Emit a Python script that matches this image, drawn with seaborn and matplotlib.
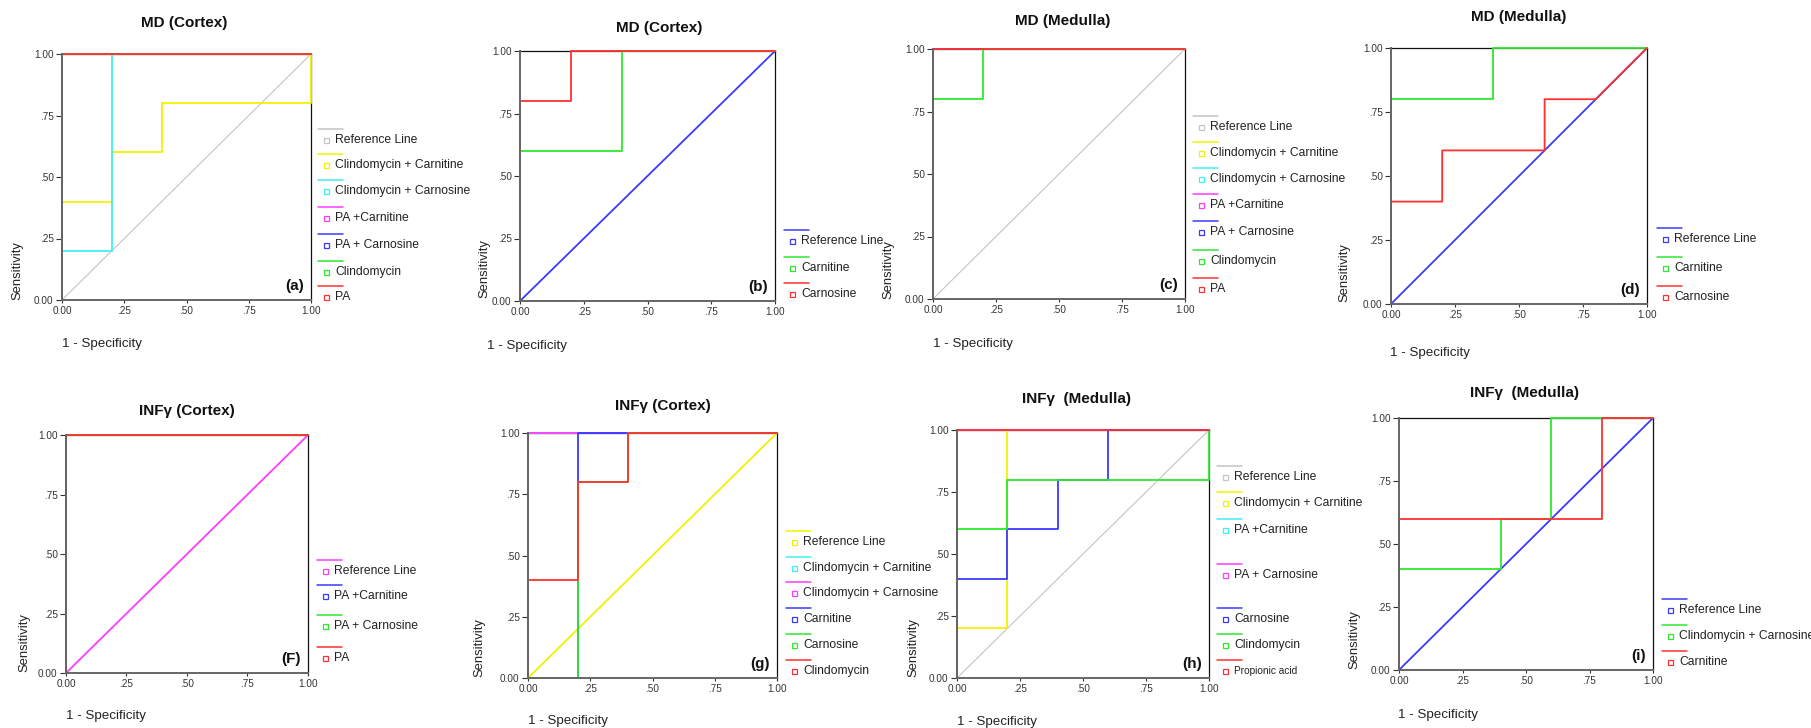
import matplotlib
matplotlib.use("Agg")
import matplotlib.pyplot as plt
import seaborn as sns
from matplotlib.lines import Line2D

sns.set_theme(style="white")
plt.rcParams["font.family"] = ["Liberation Sans", "DejaVu Sans"]

W, H = 1811, 728

# ---------------- data ----------------
# (a) MD (Cortex)
a_labels = ["Reference Line", "Clindomycin + Carnitine", "Clindomycin + Carnosine",
            "PA +Carnitine", "PA + Carnosine", "Clindomycin", "PA"]
a_fpr = [[0, 1], [0, 0, .2, .2, .4, .4, 1, 1], [0, 0, .2, .2, 1],
         [0, 0, 1], [0, 0, 1], [0, 0, 1], [0, 0, 1]]
a_tpr = [[0, 1], [0, .4, .4, .6, .6, .8, .8, 1], [0, .2, .2, 1, 1],
         [0, 1, 1], [0, 1, 1], [0, 1, 1], [0, 1, 1]]

# (b) MD (Cortex)
b_labels = ["Reference Line", "Carnitine", "Carnosine"]
b_fpr = [[0, 1], [0, 0, .4, .4, 1], [0, 0, .2, .2, 1]]
b_tpr = [[0, 1], [0, .6, .6, 1, 1], [0, .8, .8, 1, 1]]

# (c) MD (Medulla)
c_labels = ["Reference Line", "Clindomycin + Carnitine", "Clindomycin + Carnosine",
            "PA +Carnitine", "PA + Carnosine", "Clindomycin", "PA"]
c_fpr = [[0, 1], [0, 0, 1], [0, 0, 1], [0, 0, 1], [0, 0, 1], [0, 0, .2, .2, 1], [0, 0, 1]]
c_tpr = [[0, 1], [0, 1, 1], [0, 1, 1], [0, 1, 1], [0, 1, 1], [0, .8, .8, 1, 1], [0, 1, 1]]

# (d) MD (Medulla)
d_labels = ["Reference Line", "Carnitine", "Carnosine"]
d_fpr = [[0, 1], [0, 0, .4, .4, 1], [0, 0, .2, .2, .6, .6, .8, 1]]
d_tpr = [[0, 1], [0, .8, .8, 1, 1], [0, .4, .4, .6, .6, .8, .8, 1]]

# (F) INFγ (Cortex)
f_labels = ["Reference Line", "PA +Carnitine", "PA + Carnosine", "PA"]
f_fpr = [[0, 1], [0, 0, 1], [0, 0, 1], [0, 0, 1]]
f_tpr = [[0, 1], [0, 1, 1], [0, 1, 1], [0, 1, 1]]

# (g) INFγ (Cortex)
g_labels = ["Reference Line", "Clindomycin + Carnitine", "Clindomycin + Carnosine",
            "Carnitine", "Carnosine", "Clindomycin"]
g_fpr = [[0, 1], [0, 0, 1], [0, 0, 1], [0, .2, .2, 1], [0, .2, .2, .4, .4, 1],
         [0, 0, .2, .2, .4, .4, 1]]
g_tpr = [[0, 1], [0, 1, 1], [0, 1, 1], [0, 0, 1, 1], [0, 0, .8, .8, 1, 1],
         [0, .4, .4, .8, .8, 1, 1]]

# (h) INFγ (Medulla)
h_labels = ["Reference Line", "Clindomycin + Carnitine", "PA +Carnitine",
            "PA + Carnosine", "Carnosine", "Clindomycin", "Propionic acid"]
h_fpr = [[0, 1], [0, 0, .2, .2, 1], [0, 0, 1], [0, 0, 1],
         [0, 0, .2, .2, .4, .4, .6, .6, 1], [0, 0, .2, .2, 1, 1], [0, 0, 1]]
h_tpr = [[0, 1], [0, .2, .2, 1, 1], [0, 1, 1], [0, 1, 1],
         [0, .4, .4, .6, .6, .8, .8, 1, 1], [0, .6, .6, .8, .8, 1], [0, 1, 1]]

# (i) INFγ (Medulla)
i_labels = ["Reference Line", "Clindomycin + Carnosine", "Carnitine"]
i_fpr = [[0, 1], [0, 0, .4, .4, .6, .6, 1], [0, 0, .8, .8, 1]]
i_tpr = [[0, 1], [0, .4, .4, .6, .6, 1, 1], [0, .6, .6, 1, 1]]

tick_vals = [0, .25, .5, .75, 1]
tick_text = ["0.00", ".25", ".50", ".75", "1.00"]

# ---------------- styles / layout ----------------
GRAY, YEL, CYA, MAG = "#c4c4c4", "#f2f200", "#3ef0f4", "#ff3cff"
BLU, GRN, RED = "#3a3aff", "#2ee82e", "#ff3030"

panels = [
    # title, letter, labels, fpr, tpr, colors, axes rect (l,t,r,b), title (x,y),
    # xlabel (x,y), ylabel (x,ybottom), legend x, legend line ys
    ("MD (Cortex)", "(a)", a_labels, a_fpr, a_tpr,
     [GRAY, YEL, CYA, MAG, BLU, GRN, RED], (62, 54, 311, 300), (184, 23),
     (62, 344), (17, 300), 318, [129, 154, 180, 207, 234, 261, 286]),
    ("MD (Cortex)", "(b)", b_labels, b_fpr, b_tpr,
     [BLU, GRN, RED], (520, 51, 775, 301), (659, 28),
     (487, 346), (484, 298), 784, [230, 257, 283]),
    ("MD (Medulla)", "(c)", c_labels, c_fpr, c_tpr,
     [GRAY, YEL, CYA, MAG, BLU, GRN, RED], (933, 49, 1185, 299), (1063, 21),
     (933, 344), (888, 299), 1193, [116, 142, 168, 194, 221, 250, 278]),
    ("MD (Medulla)", "(d)", d_labels, d_fpr, d_tpr,
     [BLU, GRN, RED], (1391, 48, 1647, 304), (1519, 17),
     (1390, 353), (1344, 302), 1657, [228, 257, 286]),
    ("INFγ (Cortex)", "(F)", f_labels, f_fpr, f_tpr,
     [MAG, BLU, GRN, RED], (66, 435, 308, 673), (187, 411),
     (66, 716), (24, 672), 317, [560, 585, 615, 647]),
    ("INFγ (Cortex)", "(g)", g_labels, g_fpr, g_tpr,
     [YEL, CYA, MAG, BLU, GRN, RED], (528, 433, 777, 678), (663, 406),
     (528, 721), (479, 677), 786, [531, 557, 582, 608, 634, 660]),
    ("INFγ  (Medulla)", "(h)", h_labels, h_fpr, h_tpr,
     [GRAY, YEL, CYA, MAG, BLU, GRN, RED], (957, 430, 1209, 678), (1077, 399),
     (957, 722), (913, 677), 1217, [466, 492, 519, 564, 608, 634, 660]),
    ("INFγ  (Medulla)", "(i)", i_labels, i_fpr, i_tpr,
     [BLU, GRN, RED], (1399, 418, 1653, 670), (1524, 393),
     (1398, 715), (1354, 669), 1662, [599, 625, 651]),
]


def fx(x):
    return x / W


def fy(y):
    return 1 - y / H


fig = plt.figure(figsize=(W / 100, H / 100), dpi=100)

for (title, letter, labels, fpr, tpr, colors, rect, tpos, xpos, ypos,
     lx, lys) in panels:
    l, t, r, b = rect
    ax = fig.add_axes([fx(l), fy(b), (r - l) / W, (b - t) / H])
    for k, (lab, xs, ys, col) in enumerate(zip(labels, fpr, tpr, colors)):
        lw = 0.8 if k == 0 and col == GRAY else 1.3
        sns.lineplot(x=xs, y=ys, sort=False, estimator=None, color=col,
                     lw=lw, ax=ax, clip_on=False, zorder=3 + k)
    ax.set_xlim(0, 1)
    ax.set_ylim(0, 1)
    ax.set_xticks(tick_vals)
    ax.set_yticks(tick_vals)
    ax.set_xticklabels(tick_text)
    ax.set_yticklabels(tick_text)
    ax.tick_params(axis="y", length=4, width=0.8, color="#333333",
                   labelsize=7.2, labelcolor="#333333", pad=2, left=True)
    ax.tick_params(axis="x", length=2, width=0.8, color="#333333",
                   labelsize=7.2, labelcolor="#333333", pad=2, bottom=True)
    # left/bottom axis lines sit above the curves, top/right below them
    for side in ["left", "bottom"]:
        ax.spines[side].set_color("#666666")
        ax.spines[side].set_linewidth(1.4)
        ax.spines[side].set_zorder(30)
    for side in ["top", "right"]:
        ax.spines[side].set_color("#111111")
        ax.spines[side].set_linewidth(0.9)
    ax.set_facecolor("white")
    ax.text(1 - 7 / (r - l), 14 / (b - t), letter, transform=ax.transAxes,
            ha="right", va="center", fontsize=11, fontweight="bold",
            color="#111111")

    fig.text(fx(tpos[0]), fy(tpos[1]), title, ha="center", va="center",
             fontsize=11, fontweight="bold", color="#111111")
    fig.text(fx(xpos[0]), fy(xpos[1]), "1 - Specificity", ha="left",
             va="center", fontsize=9.6, color="#222222")
    fig.text(fx(ypos[0]), fy(ypos[1]), "Sensitivity", ha="center",
             va="bottom", rotation=90, fontsize=9.4, color="#222222")

    # SPSS-style legend: line above, hollow square + label below
    for lab, col, ly in zip(labels, colors, lys):
        fig.add_artist(Line2D([fx(lx), fx(lx + 25)], [fy(ly), fy(ly)],
                              color=col, lw=1.1, transform=fig.transFigure))
        fig.add_artist(Line2D([fx(lx + 8)], [fy(ly + 11)], marker="s", ms=3.6,
                              mfc="none", mec=col, mew=0.9, ls="none",
                              transform=fig.transFigure))
        fs = 7.3 if lab == "Propionic acid" else 8.7
        fig.text(fx(lx + 17), fy(ly + 11), lab, ha="left", va="center",
                 fontsize=fs, color="#222222")

fig.savefig("out.png", dpi=100, facecolor="white")
